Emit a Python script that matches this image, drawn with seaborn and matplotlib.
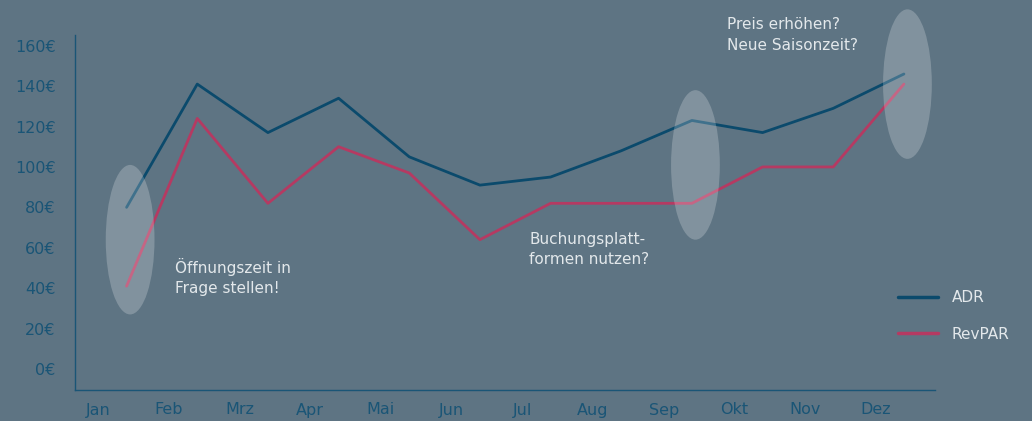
import numpy as np
import pandas as pd
import matplotlib
matplotlib.use("Agg")
import matplotlib.pyplot as plt
from matplotlib.patches import Ellipse
from matplotlib.lines import Line2D
import seaborn as sns

# data
months = ["Jan", "Feb", "Mrz", "Apr", "Mai", "Jun", "Jul", "Aug", "Sep", "Okt", "Nov", "Dez"]
adr = [80, 141, 117, 134, 105, 91, 95, 108, 123, 117, 129, 146]
revpar = [41, 124, 82, 110, 97, 64, 82, 82, 82, 100, 100, 141]
y_ticks = [0, 20, 40, 60, 80, 100, 120, 140, 160]

# highlighted months (index, centre value) and notes
highlights = [(0, 64), (8, 101), (11, 141)]
notes = [
    (1.08, 55, "Öffnungszeit in\nFrage stellen!"),
    (6.1, 68, "Buchungsplatt-\nformen nutzen?"),
    (8.9, 174, "Preis erhöhen?\nNeue Saisonzeit?"),
]

bg = "#5e7483"
axis_col = "#1a5576"
adr_col = "#0b4a6c"
rev_col = "#b53a62"
text_col = "#e3e8eb"

sns.set_theme(style="white")
plt.rcParams["font.family"] = ["DejaVu Sans"]

shift = 0.4
df = pd.DataFrame({
    "x": np.arange(len(months)) + shift,
    "ADR": adr,
    "RevPAR": revpar,
}).melt(id_vars="x", var_name="Serie", value_name="Wert")

fig = plt.figure(figsize=(10.32, 4.21), dpi=100, facecolor=bg)
ax = fig.add_axes([75 / 1032, 31 / 421, (935 - 75) / 1032, (390 - 35) / 421])
ax.set_facecolor(bg)

sns.lineplot(
    data=df, x="x", y="Wert", hue="Serie",
    palette={"ADR": adr_col, "RevPAR": rev_col},
    linewidth=2, ax=ax, legend=False,
)

for i, yc in highlights:
    ax.add_patch(Ellipse((i + shift + 0.05, yc), width=0.69, height=74,
                         facecolor="white", alpha=0.22, edgecolor="none",
                         zorder=5, clip_on=False))

for x, y, t in notes:
    ax.text(x, y, t, color=text_col, fontsize=11, va="top", ha="left",
            linespacing=1.45)

ax.set_xlim(-0.33, 11.84)
ax.set_ylim(-10.4, 165.3)
ax.set_xticks(range(len(months)))
ax.set_xticklabels(months)
ax.set_yticks(y_ticks)
ax.set_yticklabels([f"{v}€" for v in y_ticks])
ax.tick_params(axis="both", length=0, colors=axis_col, labelsize=11.5)
ax.tick_params(axis="y", pad=14)
ax.tick_params(axis="x", pad=9)
ax.set_xlabel("")
ax.set_ylabel("")

for s in ["top", "right"]:
    ax.spines[s].set_visible(False)
for s in ["left", "bottom"]:
    ax.spines[s].set_color(axis_col)
    ax.spines[s].set_linewidth(1)

handles = [Line2D([], [], color=adr_col, lw=2.5), Line2D([], [], color=rev_col, lw=2.5)]
leg = fig.legend(handles, ["ADR", "RevPAR"], loc="center left",
                 bbox_to_anchor=(898 / 1032, 1 - 316 / 421), frameon=False,
                 handlelength=2.6, handletextpad=0.9, labelspacing=1.4,
                 borderpad=0, borderaxespad=0, fontsize=11)
for t in leg.get_texts():
    t.set_color(text_col)

fig.savefig("out.png", dpi=100, facecolor=bg)
